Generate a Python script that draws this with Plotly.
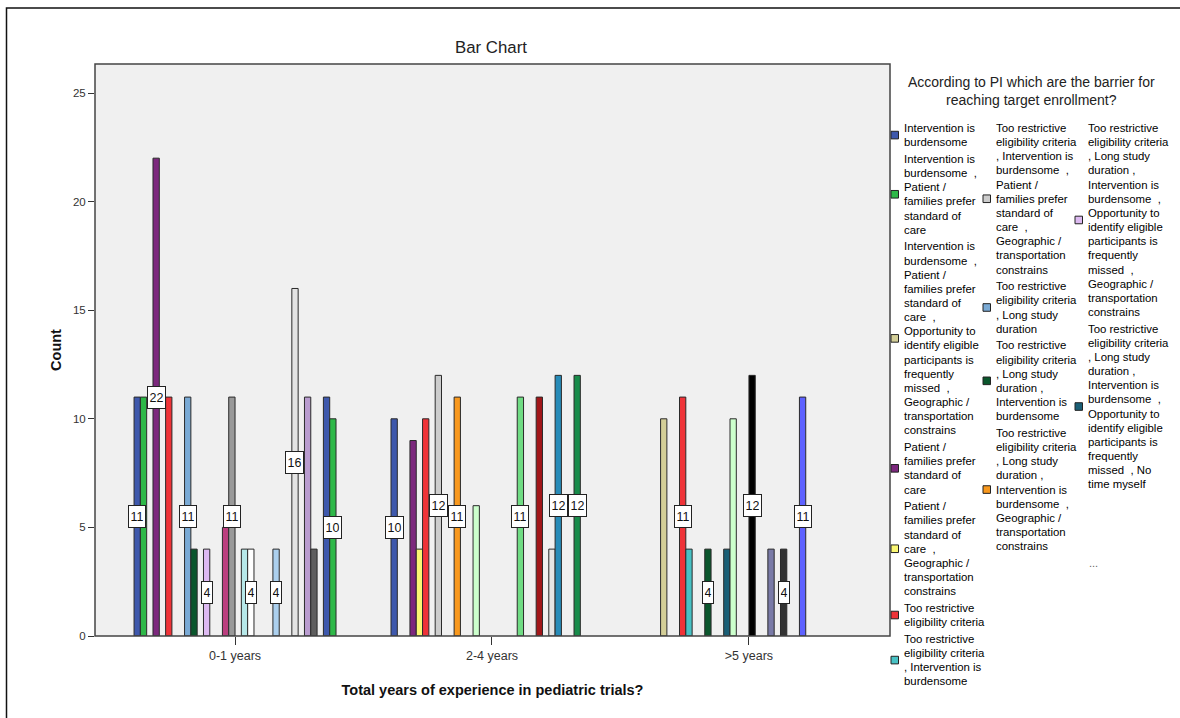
import plotly.graph_objects as go

# ---- data -------------------------------------------------------------
groups = ["0-1 years", "2-4 years", ">5 years"]

# barrier combinations (line breaks mark where the legend text wraps)
barriers = [
    "Intervention is\nburdensome",
    "Intervention is\nburdensome  ,\nPatient /\nfamilies prefer\nstandard of\ncare",
    "Intervention is\nburdensome  ,\nPatient /\nfamilies prefer\nstandard of\ncare  ,\nOpportunity to\n"
    "identify eligible\nparticipants is\nfrequently\nmissed  ,\nGeographic /\ntransportation\nconstrains",
    "Patient /\nfamilies prefer\nstandard of\ncare",
    "Patient /\nfamilies prefer\nstandard of\ncare  ,\nGeographic /\ntransportation\nconstrains",
    "Too restrictive\neligibility criteria",
    "Too restrictive\neligibility criteria\n, Intervention is\nburdensome",
    "Too restrictive\neligibility criteria\n, Intervention is\nburdensome  ,\nPatient /\nfamilies prefer\n"
    "standard of\ncare  ,\nGeographic /\ntransportation\nconstrains",
    "Too restrictive\neligibility criteria\n, Long study\nduration",
    "Too restrictive\neligibility criteria\n, Long study\nduration ,\nIntervention is\nburdensome",
    "Too restrictive\neligibility criteria\n, Long study\nduration ,\nIntervention is\nburdensome  ,\n"
    "Geographic /\ntransportation\nconstrains",
    "Too restrictive\neligibility criteria\n, Long study\nduration ,\nIntervention is\nburdensome  ,\n"
    "Opportunity to\nidentify eligible\nparticipants is\nfrequently\nmissed  ,\nGeographic /\n"
    "transportation\nconstrains",
    "Too restrictive\neligibility criteria\n, Long study\nduration ,\nIntervention is\nburdensome  ,\n"
    "Opportunity to\nidentify eligible\nparticipants is\nfrequently\nmissed  , No\ntime myself",
] + [f"Combination {i}" for i in range(14, 33)]

counts_0_1 = [11, 11, None, 22, None, 11, None, None, 11, 4, None, 4, None, None, 5, 11,
              None, 4, 4, None, None, None, 4, None, None, 16, None, 11, 4, None, 11, 10]
counts_2_4 = [10, None, None, 9, 4, 10, None, 12, None, None, 11, None, None, 6, None, None,
              None, None, None, None, 11, None, None, 11, None, 4, 12, None, None, 12, None, None]
counts_gt5 = [None, None, 10, None, None, 11, 4, None, None, 4, None, None, 4, 10, None, None,
              12, None, None, 4, None, 4, None, None, 11, None, None, None, None, None, None, None]

# bars carrying a boxed count label, per experience group
labelled_0_1 = [0, 3, 8, 11, 15, 18, 22, 25, 31]
labelled_2_4 = [0, 7, 10, 20, 26, 29]
labelled_gt5 = [5, 9, 16, 21, 24]

colors = ["#3E58AC", "#2EB848", "#D3CE97", "#7C287D", "#FBF873", "#EF3338", "#48C2C5", "#CCCCCC",
          "#7AAAD5", "#0A562C", "#F8981D", "#DDBAF1", "#1A5F76", "#CCFFCC", "#BB3F7F", "#999999",
          "#000000", "#B6E7E8", "#FFFFFF", "#797AA7", "#70DC84", "#333333", "#ACD0EE", "#A21619",
          "#5D61FF", "#E4E4E4", "#278BB8", "#B99CCF", "#5E5E5E", "#178B4A", "#3E58AC", "#2EB848"]

legend_title = "According to PI which are the barrier for<br>reaching target enrollment?"
legend_columns = [[0, 1, 2, 3, 4, 5, 6], [7, 8, 9, 10], [11, 12]]

# ---- geometry of the page ----------------------------------------------
W, H = 1180, 718
PL, PR, PT, PB = 95, 890, 64, 636          # plot area in pixels
BARGAP = 0.214
FONT = "Liberation Sans, Arial, sans-serif"


def px_x(px):
    return (px - PL) / (PR - PL)


def px_y(py):
    return (PB - py) / (PB - PT)


counts = [counts_0_1, counts_2_4, counts_gt5]
labelled = [labelled_0_1, labelled_2_4, labelled_gt5]
n = len(barriers)
slot_w = (1 - BARGAP) / n

fig = go.Figure()
for k, name in enumerate(barriers):
    fig.add_trace(go.Bar(
        x=list(range(len(groups))),
        y=[c[k] for c in counts],
        name=name.replace("\n", " "),
        marker=dict(color=colors[k], line=dict(color="#2a2a2a", width=1)),
        showlegend=False,
        hoverinfo="y+name",
    ))

annotations = []
# boxed count labels in the middle of selected bars
for g, (vals, sel) in enumerate(zip(counts, labelled)):
    for k in sel:
        v = vals[k]
        annotations.append(dict(
            x=g + (k - (n - 1) / 2) * slot_w, y=v / 2, xref="x", yref="y",
            text=str(v), showarrow=False, font=dict(family=FONT, size=12.5, color="#111"),
            bgcolor="white", bordercolor="#222", borderwidth=1, borderpad=1.5, height=18,
        ))

shapes = []
# legend title
annotations.append(dict(
    x=px_x(1031), y=px_y(91), xref="paper", yref="paper", text=legend_title,
    showarrow=False, align="center", xanchor="center", yanchor="middle",
    font=dict(family=FONT, size=14, color="#222"),
))

# legend columns: swatch + wrapped text
LINE_H, ITEM_GAP, FIRST_Y = 14.15, 2.6, 128
col_text_x = [902, 994, 1086]
col_box_x = [891, 983, 1075]
for c, items in enumerate(legend_columns):
    y = FIRST_Y
    for idx in items:
        lines = barriers[idx].split("\n")
        y_start = y
        for ln in lines:
            annotations.append(dict(
                x=px_x(col_text_x[c]), y=px_y(y), xref="paper", yref="paper", text=ln,
                showarrow=False, xanchor="left", yanchor="middle",
                font=dict(family=FONT, size=11.4, color="#000"),
            ))
            y += LINE_H
        mid = (y_start + y - LINE_H) / 2
        shapes.append(dict(
            type="rect", xref="paper", yref="paper",
            x0=px_x(col_box_x[c]), x1=px_x(col_box_x[c] + 7.5),
            y0=px_y(mid + 3.8), y1=px_y(mid - 3.8),
            fillcolor=colors[idx], line=dict(color="#222", width=1),
        ))
        y += ITEM_GAP
annotations.append(dict(
    x=px_x(1087), y=px_y(563), xref="paper", yref="paper", text="...",
    showarrow=False, xanchor="left", yanchor="middle",
    font=dict(family=FONT, size=11, color="#666"),
))

# plot-area frame and the outer chart border
shapes.append(dict(type="rect", xref="paper", yref="paper", x0=0, x1=1, y0=0, y1=1,
                   line=dict(color="#444", width=1.5), layer="above"))
shapes.append(dict(type="rect", xref="paper", yref="paper",
                   x0=px_x(6.5), x1=px_x(W + 20), y0=px_y(H + 20), y1=px_y(8),
                   line=dict(color="#111", width=1.5)))

fig.update_layout(
    width=W, height=H,
    margin=dict(l=PL, r=W - PR, t=PT, b=H - PB),
    barmode="group", bargap=BARGAP, bargroupgap=0,
    plot_bgcolor="#F0F0F0", paper_bgcolor="white",
    title=dict(text="Bar Chart", x=px_x(491), xref="paper", y=1 - 47 / H, yanchor="middle",
               xanchor="center", font=dict(family=FONT, size=16.8, color="#222")),
    xaxis=dict(
        range=[-0.545, 2.549], tickmode="array", tickvals=list(range(len(groups))),
        ticktext=groups, ticks="outside", ticklen=8, tickcolor="#333",
        showline=False, showgrid=False, zeroline=False,
        tickfont=dict(family=FONT, size=12.5, color="#333"),
        title=dict(text="<b>Total years of experience in pediatric trials?</b>", standoff=22,
                   font=dict(family=FONT, size=14.5, color="#111")),
    ),
    yaxis=dict(
        range=[0, (PB - PT) / 21.72], tickmode="array", tickvals=[0, 5, 10, 15, 20, 25],
        ticks="outside", ticklen=6, tickcolor="#333", showline=False, showgrid=False,
        zeroline=False, tickfont=dict(family=FONT, size=11.5, color="#333"),
        title=dict(text="<b>Count</b>", standoff=7, font=dict(family=FONT, size=14.5, color="#111")),
    ),
    annotations=annotations,
    shapes=shapes,
)

fig.write_html("out.html")
